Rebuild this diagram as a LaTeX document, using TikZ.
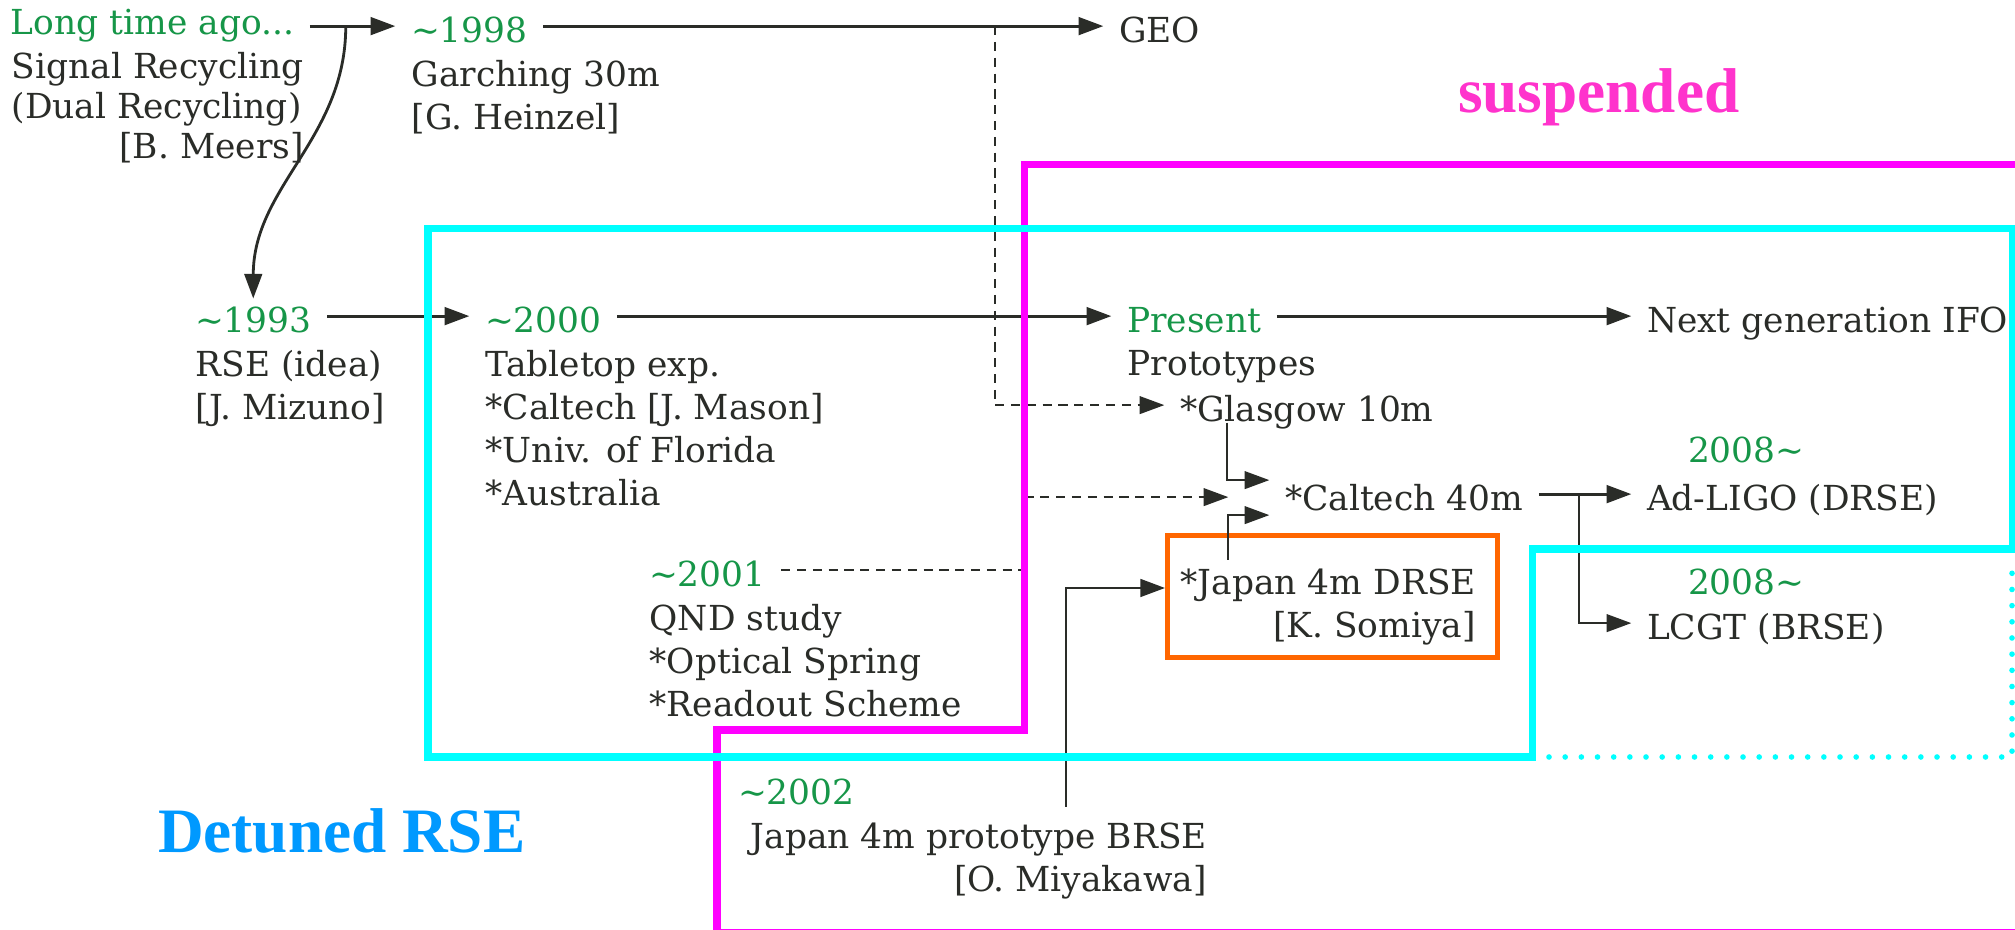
\documentclass[tikz,border=0pt]{standalone}
\usepackage{fontspec}
\setmainfont{DejaVu Serif}
\newfontfamily\bannerfont{Liberation Serif}
\usetikzlibrary{arrows.meta}

\definecolor{yeargreen}{RGB}{22,150,72}
\definecolor{ink}{RGB}{42,44,40}
\definecolor{detuned}{RGB}{0,153,255}
\definecolor{susp}{RGB}{255,51,204}
\definecolor{japanbox}{RGB}{255,102,0}
\definecolor{suspline}{RGB}{255,0,255}
\definecolor{rseline}{RGB}{0,255,255}

\begin{document}
\begin{tikzpicture}[
  txt/.style={text=ink, font=\fontsize{9.8}{12.2}\selectfont},
  lbl/.style={txt, inner xsep=.15cm, inner ysep=0pt, text height=9.6pt, text depth=0pt, anchor=text},
  yr/.style={lbl, text=yeargreen},
  body/.style={txt, align=left, inner sep=0pt, anchor=north west},
  arr/.style={draw=ink, line width=.8pt, -{Triangle[length=7pt,width=5pt]}},
  link/.style={arr, line width=.6pt},
  dsh/.style={arr, line width=.6pt, dash pattern=on 2.6pt off 1.9pt},
  zone/.style={line width=2pt, line join=miter},
  banner/.style={font=\bannerfont\bfseries\fontsize{18}{18}\selectfont, inner sep=0pt, anchor=text}
]
  \fill[white] (0,0) rectangle (20.15,9.3);
  \useasboundingbox (0,0) rectangle (20.15,9.3);

  \node[yr] (long) at (.11,8.95) {Long time ago...};
  \node[body, font=\fontsize{9.8}{11.4}\selectfont] (blong) at ([yshift=-.17cm]long.text)
    {Signal Recycling\\(Dual Recycling)\\\hfill[B. Meers]};
  \node[yr] (y1998) at (4.11,8.87) {\textasciitilde1998};
  \node[body] (b1998) at ([yshift=-.17cm]y1998.text) {Garching 30m\\{}[G. Heinzel]};
  \node[lbl] (geo) at (11.19,8.87) {GEO};

  \node[yr] (y1993) at (1.95,5.97) {\textasciitilde1993};
  \node[body] (b1993) at ([yshift=-.17cm]y1993.text) {RSE (idea)\\{}[J. Mizuno]};
  \node[yr] (y2000) at (4.85,5.97) {\textasciitilde2000};
  \node[body] (b2000) at ([yshift=-.17cm]y2000.text)
    {Tabletop exp.\\{}*Caltech [J. Mason]\\{}*Univ. of Florida\\{}*Australia};
  \node[yr] (present) at (11.27,5.97) {Present};
  \node[body] (bpresent) at ([yshift=-.17cm]present.text) {Prototypes};
  \node[lbl] (nextgen) at (16.47,5.97) {Next generation IFO};

  \node[lbl] (glasgow) at (11.80,5.08) {*Glasgow 10m};
  \node[lbl] (caltech) at (12.85,4.19) {*Caltech 40m};
  \node[yr] (y2008a) at (16.88,4.67) {2008\textasciitilde};
  \node[lbl] (adligo) at (16.47,4.19) {Ad-LIGO (DRSE)};
  \node[yr] (y2008b) at (16.88,3.35) {2008\textasciitilde};
  \node[lbl] (lcgt) at (16.47,2.90) {LCGT (BRSE)};

  \node[yr] (y2001) at (6.49,3.43) {\textasciitilde2001};
  \node[body] (b2001) at ([yshift=-.17cm]y2001.text)
    {QND study\\{}*Optical Spring\\{}*Readout Scheme};
  \node[body] (jp) at (11.80,3.62) {*Japan 4m DRSE\\\hfill[K. Somiya]};
  \node[draw=japanbox, line width=1.4pt, minimum width=3.3cm, minimum height=1.22cm, inner sep=0pt]
    (jpbox) at (13.325,3.335) {};
  \node[yr] (y2002) at (7.38,1.25) {\textasciitilde2002};
  \node[body] (b2002) at ([shift={(.12,-.17)}]y2002.text)
    {Japan 4m prototype BRSE\\\hfill[O. Miyakawa]};

  \node[banner, text=susp] (suspended) at (14.58,8.17) {suspended};
  \node[banner, text=detuned] (detunedrse) at (1.58,.77) {Detuned RSE};

  \draw[arr] (long.east |- y1998.west) -- coordinate[pos=.42] (split) (y1998.west);
  \draw[arr] (split) to[out=-90,in=90] (y1993.north);
  \draw[arr] (y1998) -- coordinate[pos=.806] (geodrop) (geo);
  \draw[dsh] (geodrop) |- (glasgow);
  \draw[arr] (y1993) -- (y2000);
  \draw[arr] (y2000) -- (present);
  \draw[arr] (present) -- (nextgen);
  \draw[link] ([xshift=.63cm]glasgow.south west) |- ([yshift=.14cm]caltech.west);
  \draw[link] ([shift={(.48,.08)}]jp.north west) |- ([yshift=-.21cm]caltech.west);
  \draw[dsh] (y2001.east) -- ++(2.45,0) |- ([shift={(-.41,-.03)}]caltech.west);
  \draw[arr] (caltech) -- coordinate[pos=.43] (fork) (adligo);
  \draw[link] (fork) |- (lcgt);
  \coordinate (q2002) at (10.66,1.23);
  \draw[arr] (q2002) |- ([yshift=.085cm]jpbox.west);

  \draw[zone, suspline] (20.3,7.65) -- (10.24,7.65) -- (10.24,2.00) -- (7.17,2.00) -- (7.17,-.025) -- (20.3,-.025);
  \draw[zone, rseline] (4.28,7.01) -- (20.12,7.01) -- (20.12,3.81) -- (15.32,3.81) -- (15.32,1.73) -- (4.28,1.73) -- cycle;
  \draw[rseline, line width=1.6pt, line cap=round, dash pattern=on 0pt off 4.6pt] (15.49,1.73) -- (20.12,1.73) -- (20.12,3.65);
\end{tikzpicture}
\end{document}
